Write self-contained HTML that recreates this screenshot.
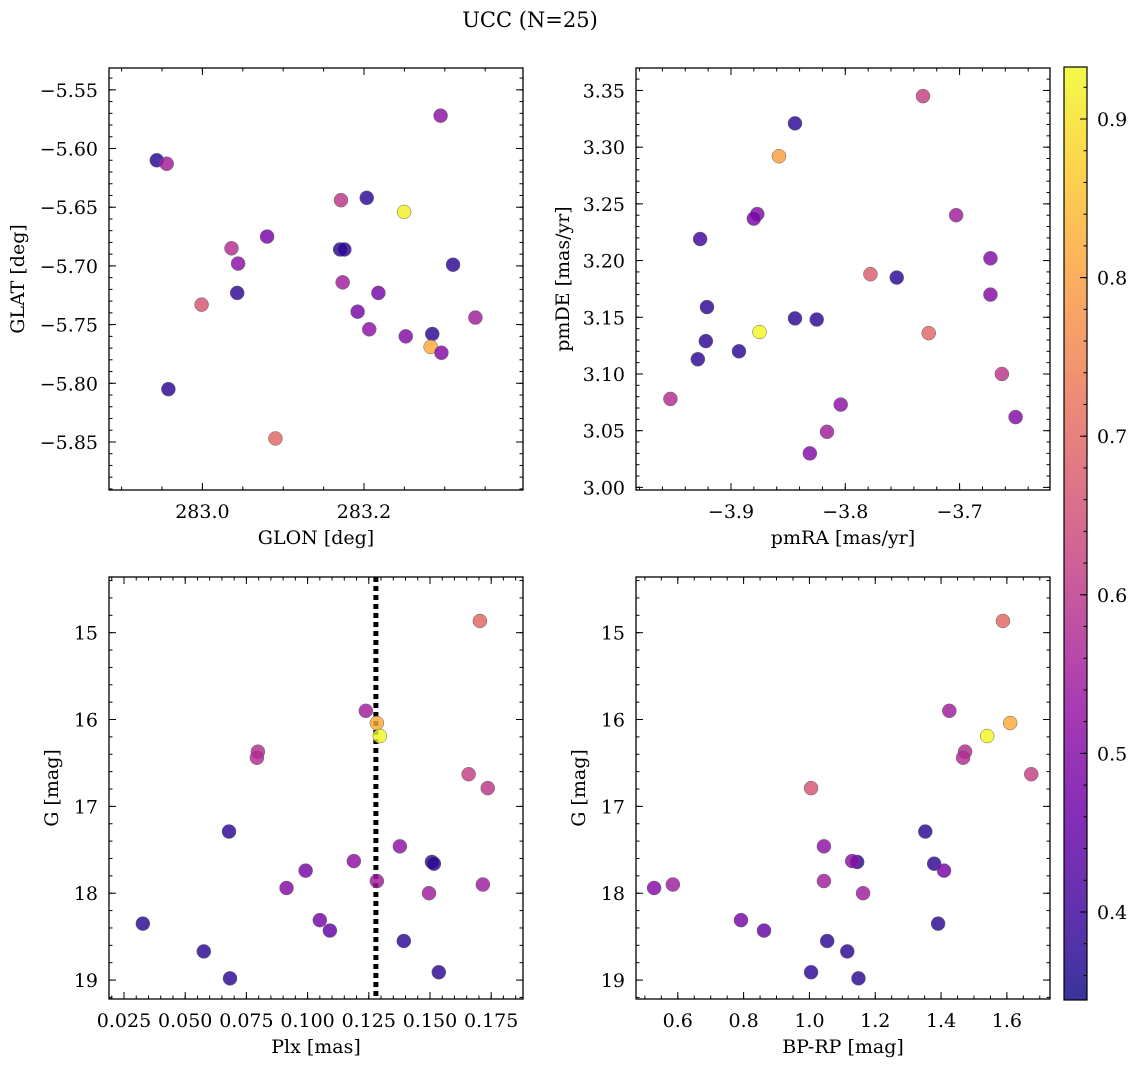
<!DOCTYPE html>
<html><head><meta charset="utf-8"><title>UCC (N=25)</title>
<style>
html,body{margin:0;padding:0;background:#fff;}
svg{display:block;font-family:"DejaVu Serif","Liberation Serif",serif;}
</style></head>
<body>
<svg id="fig" width="1136" height="1067" viewBox="0 0 1136 1067" xmlns="http://www.w3.org/2000/svg">
<rect x="0" y="0" width="1136" height="1067" fill="#fff"/>
<text x="530" y="27" font-size="21" text-anchor="middle">UCC (N=25)</text>
<defs>
<linearGradient id="plasmaGrad" x1="0" y1="1" x2="0" y2="0">
<stop offset="0" stop-color="#0d0887"/><stop offset="0.1" stop-color="#41049d"/><stop offset="0.2" stop-color="#6a00a8"/><stop offset="0.3" stop-color="#8f0da4"/><stop offset="0.4" stop-color="#b12a90"/><stop offset="0.5" stop-color="#cc4778"/><stop offset="0.6" stop-color="#e16462"/><stop offset="0.7" stop-color="#f2844b"/><stop offset="0.8" stop-color="#fca636"/><stop offset="0.9" stop-color="#fcce25"/><stop offset="1" stop-color="#f0f921"/>
</linearGradient>
</defs>
</svg>
<script>
// ---- Data: top-left (GLON vs GLAT)
const glonTL=[282.9435,282.9558,283.2948,283.2034,283.1715,283.2496,283.0801,283.036,283.0442,283.1705,283.1757,283.3102,283.0431,283.1736,283.2178,282.999,283.1921,283.3379,283.2065,283.2517,283.2845,283.2825,283.2958,282.9579,283.0904];
const glatTL=[-5.610,-5.613,-5.572,-5.642,-5.644,-5.654,-5.675,-5.685,-5.698,-5.686,-5.686,-5.699,-5.723,-5.714,-5.723,-5.733,-5.739,-5.744,-5.754,-5.760,-5.758,-5.769,-5.774,-5.805,-5.847];
const probTL=[0.37,0.55,0.52,0.38,0.60,0.92,0.48,0.58,0.52,0.38,0.38,0.38,0.38,0.55,0.48,0.66,0.48,0.55,0.52,0.50,0.38,0.82,0.50,0.38,0.70];
// ---- Data: top-right (pmRA vs pmDE)
const pmraTR=[-3.732,-3.844,-3.858,-3.877,-3.880,-3.927,-3.703,-3.673,-3.778,-3.755,-3.921,-3.673,-3.844,-3.825,-3.875,-3.727,-3.922,-3.893,-3.929,-3.663,-3.953,-3.804,-3.816,-3.651,-3.831];
const pmdeTR=[3.345,3.321,3.292,3.241,3.237,3.219,3.240,3.202,3.188,3.185,3.159,3.170,3.149,3.148,3.137,3.136,3.129,3.120,3.113,3.100,3.078,3.073,3.049,3.062,3.030];
const probTR=[0.62,0.38,0.80,0.50,0.48,0.40,0.55,0.50,0.68,0.38,0.38,0.50,0.38,0.38,0.93,0.70,0.38,0.38,0.38,0.60,0.58,0.52,0.55,0.50,0.50];
// ---- Data: bottom-left (Plx vs G)
const plxBL=[0.1704,0.1238,0.1283,0.1295,0.0797,0.0793,0.1658,0.1736,0.0679,0.1377,0.1508,0.1516,0.1189,0.0992,0.1283,0.1716,0.0914,0.1496,0.1050,0.1091,0.0327,0.1393,0.0576,0.1536,0.0683];
const gBL=[14.865,15.90,16.04,16.19,16.37,16.44,16.63,16.79,17.29,17.46,17.64,17.66,17.63,17.74,17.86,17.90,17.94,18.00,18.31,18.43,18.35,18.55,18.67,18.91,18.98];
const probBL=[0.70,0.55,0.82,0.93,0.58,0.58,0.62,0.60,0.38,0.52,0.38,0.38,0.52,0.48,0.55,0.55,0.50,0.55,0.48,0.45,0.38,0.38,0.38,0.38,0.38];
const plxLine=[0.1279];
// ---- Data: bottom-right (BP-RP vs G)
const bprpBR=[1.588,1.425,1.610,1.540,1.473,1.467,1.674,1.005,1.352,1.044,1.379,1.145,1.130,1.409,1.044,0.585,0.528,1.163,0.792,0.862,1.391,1.054,1.115,1.005,1.149];
const gBR=[14.865,15.90,16.04,16.19,16.37,16.44,16.63,16.79,17.29,17.46,17.66,17.64,17.63,17.74,17.86,17.90,17.94,18.00,18.31,18.43,18.35,18.55,18.67,18.91,18.98];
const probBR=[0.70,0.55,0.82,0.93,0.58,0.58,0.62,0.66,0.38,0.52,0.38,0.38,0.52,0.48,0.55,0.55,0.50,0.55,0.48,0.45,0.38,0.38,0.38,0.38,0.38];
// ---- Colorbar ticks
const cbarTicks=[0.4,0.5,0.6,0.7,0.8,0.9];
const cMin=0.3445, cMax=0.9328;

const NS="http://www.w3.org/2000/svg";
const svg=document.getElementById("fig");
function mk(tag,attrs,parent){const e=document.createElementNS(NS,tag);for(const k in attrs)e.setAttribute(k,attrs[k]);(parent||svg).appendChild(e);return e;}

const stops=[[13,8,135],[65,4,157],[106,0,168],[143,13,164],[177,42,144],[204,71,120],[225,100,98],[242,132,75],[252,166,54],[252,206,37],[240,249,33]];
function plasma(v){let t=(v-cMin)/(cMax-cMin);t=Math.max(0,Math.min(1,t));const p=t*10;const i=Math.min(9,Math.floor(p));const f=p-i;const a=stops[i],b=stops[i+1];return "rgb("+[0,1,2].map(k=>Math.round(a[k]+(b[k]-a[k])*f)).join(",")+")";}
function fmt(v,d){const s=Math.abs(v).toFixed(d);return (v<-1e-12?"\u2212":"")+s;}

function panel(cfg,xs,ys,cs){
  const g=mk("g",{});
  
  
  const L=cfg.l,R=cfg.r,T=cfg.t,B=cfg.b;
  const sx=v=>L+(v-cfg.x0)/(cfg.x1-cfg.x0)*(R-L);
  const sy=cfg.invY? (v=>T+(v-cfg.y0)/(cfg.y1-cfg.y0)*(B-T)) : (v=>B-(v-cfg.y0)/(cfg.y1-cfg.y0)*(B-T));
  const xlo=Math.min(cfg.x0,cfg.x1),xhi=Math.max(cfg.x0,cfg.x1),ylo=Math.min(cfg.y0,cfg.y1),yhi=Math.max(cfg.y0,cfg.y1);
  function ticks(lo,hi,step){const out=[];for(let k=Math.ceil(lo/step-1e-9);k*step<=hi+1e-9;k++)out.push(k*step);return out;}
  const tg=mk("g",{stroke:"#000","stroke-width":1},g);
  
  
  ticks(xlo,xhi,cfg.xminor).forEach(v=>{const x=sx(v);mk("line",{x1:x,x2:x,y1:B,y2:B-3.5},tg);mk("line",{x1:x,x2:x,y1:T,y2:T+3.5},tg);});
  ticks(ylo,yhi,cfg.yminor).forEach(v=>{const y=sy(v);mk("line",{x1:L,x2:L+3.5,y1:y,y2:y},tg);mk("line",{x1:R,x2:R-3.5,y1:y,y2:y},tg);});
  ticks(xlo,xhi,cfg.xmajor).forEach(v=>{const x=sx(v);mk("line",{x1:x,x2:x,y1:B,y2:B-7},tg);mk("line",{x1:x,x2:x,y1:T,y2:T+7},tg);
    const t=mk("text",{x:x,y:B+28,"font-size":19,"text-anchor":"middle",stroke:"none",fill:"#000"},g);t.textContent=fmt(v,cfg.xd);
    
    });
  ticks(ylo,yhi,cfg.ymajor).forEach(v=>{const y=sy(v);mk("line",{x1:L,x2:L+7,y1:y,y2:y},tg);mk("line",{x1:R,x2:R-7,y1:y,y2:y},tg);
    const t=mk("text",{x:L-11,y:y+7,"font-size":19,"text-anchor":"end",stroke:"none",fill:"#000"},g);t.textContent=fmt(v,cfg.yd);
    
    });
  if(cfg.vline){cfg.vline.forEach(v=>{const ln=mk("line",{x1:sx(v),x2:sx(v),y1:T,y2:B,stroke:"#000","stroke-width":5,"stroke-dasharray":"5 4"},g);
    
    });}
  xs.forEach((xv,i)=>{const c=mk("circle",{cx:sx(xv),cy:sy(ys[i]),r:7,fill:plasma(cs[i]),"fill-opacity":0.82,stroke:"#666","stroke-width":0.5},g);
    
    });
  const fr=mk("rect",{x:L,y:T,width:R-L,height:B-T,fill:"none",stroke:"#000","stroke-width":1.3},g);
  
  
  const xl=mk("text",{x:(L+R)/2,y:B+54,"font-size":19,"text-anchor":"middle"},g);xl.textContent=cfg.xlabel;
  
  
  const yl=mk("text",{x:0,y:0,"font-size":19,"text-anchor":"middle",transform:"translate("+cfg.ylx+","+((T+B)/2)+") rotate(-90)"},g);yl.textContent=cfg.ylabel;
  
  
}

panel({name:"glon-glat-panel",l:109,r:523,t:68,b:490,x0:282.8844,x1:283.3968,y0:-5.8909,y1:-5.5314,xmajor:0.2,xminor:0.05,ymajor:0.05,yminor:0.01,xd:1,yd:2,xlabel:"GLON [deg]",ylabel:"GLAT [deg]",ylx:24},glonTL,glatTL,probTL);
panel({name:"pm-panel",l:636,r:1050,t:68,b:490,x0:-3.9831,x1:-3.6209,y0:2.9977,y1:3.3698,xmajor:0.1,xminor:0.02,ymajor:0.05,yminor:0.01,xd:1,yd:2,xlabel:"pmRA [mas/yr]",ylabel:"pmDE [mas/yr]",ylx:569},pmraTR,pmdeTR,probTR);
panel({name:"plx-g-panel",l:109,r:523,t:577,b:999,x0:0.01887,x1:0.188,y0:14.359,y1:19.218,invY:true,xmajor:0.025,xminor:0.005,ymajor:1,yminor:0.2,xd:3,yd:0,xlabel:"Plx [mas]",ylabel:"G [mag]",ylx:58,vline:plxLine},plxBL,gBL,probBL);
panel({name:"cmd-panel",l:636,r:1050,t:577,b:999,x0:0.473,x1:1.731,y0:14.359,y1:19.218,invY:true,xmajor:0.2,xminor:0.05,ymajor:1,yminor:0.2,xd:1,yd:0,xlabel:"BP-RP [mag]",ylabel:"G [mag]",ylx:585},bprpBR,gBR,probBR);

const cb=mk("g",{});


const CT=67,CB=1000,CL=1064,CR=1087;
mk("rect",{x:CL,y:CT,width:CR-CL,height:CB-CT,fill:"url(#plasmaGrad)","fill-opacity":0.82},cb);
mk("rect",{x:CL,y:CT,width:CR-CL,height:CB-CT,fill:"none",stroke:"#000","stroke-width":1.2},cb);
const cy=v=>CB-(v-cMin)/(cMax-cMin)*(CB-CT);
for(let k=Math.ceil(cMin/0.02);k*0.02<=cMax;k++){const y=cy(k*0.02);mk("line",{x1:CR,x2:CR-3.5,y1:y,y2:y,stroke:"#000"},cb);}
cbarTicks.forEach(v=>{const y=cy(v);mk("line",{x1:CR,x2:CR-7,y1:y,y2:y,stroke:"#000"},cb);
  const t=mk("text",{x:1097,y:y+7,"font-size":19},cb);t.textContent=v.toFixed(1);
  
  });
</script>
</body></html>
